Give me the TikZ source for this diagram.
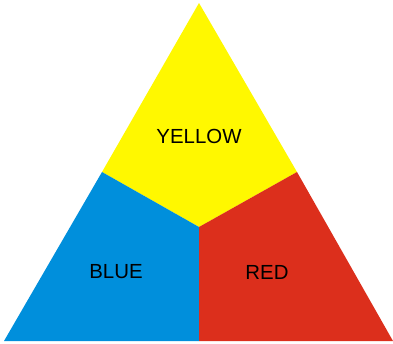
\documentclass[tikz,border=0pt]{standalone}
\usepackage{fontspec}
\setmainfont{Liberation Sans}
\usepackage{tikz}
\definecolor{primYellow}{HTML}{FFF800}
\definecolor{primBlue}{HTML}{008FDC}
\definecolor{primRed}{HTML}{DC2F1C}
\tikzset{
  wedge/.style={draw=none},
  colorlabel/.style={font=\fontsize{20.4}{24}\selectfont, inner sep=0pt, anchor=center}
}
\begin{document}
\begin{tikzpicture}[x=1pt, y=-1pt]
\useasboundingbox (0,0) rectangle (393,343);
\coordinate (apex) at (199,3);
\coordinate (bl) at (4,341);
\coordinate (br) at (393,341);
\coordinate (lm) at (102,172);
\coordinate (rm) at (297,172);
\coordinate (ctr) at (199,227);
\coordinate (bc) at (199,341);
\fill[wedge, primYellow] (apex) -- (rm) -- (ctr) -- (lm) -- cycle;
\fill[wedge, primBlue] (lm) -- (ctr) -- (bc) -- (bl) -- cycle;
\fill[wedge, primRed] (ctr) -- (rm) -- (br) -- (bc) -- cycle;
\node[colorlabel] (yellow) at (199,136) {YELLOW};
\node[colorlabel] (blue) at (116,272) {BLUE};
\node[colorlabel] (red) at (267,272) {RED};
\end{tikzpicture}
\end{document}
